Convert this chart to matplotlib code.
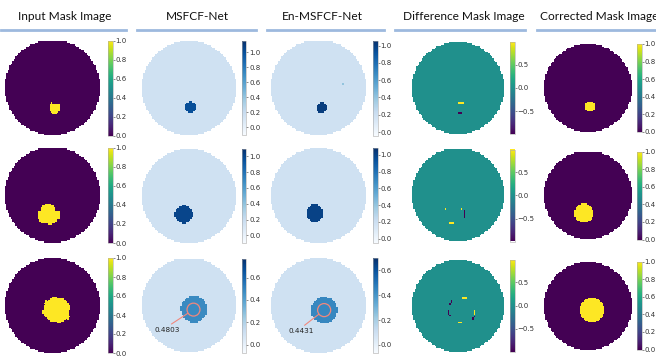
import numpy as np
import matplotlib
matplotlib.use("Agg")
import matplotlib.pyplot as plt
from matplotlib.patches import Circle
from matplotlib.lines import Line2D

N = 64
titles = ["Input Mask Image", "MSFCF-Net", "En-MSFCF-Net",
          "Difference Mask Image", "Corrected Mask Image"]

# lesion position per row: offset from the image centre (grid px, +y down) and radius
blob_dx = [1.5, -3.0, 3.0]
blob_dy = [13.5, 13.3, 3.0]
blob_r = [3.7, 7.0, 9.0]
# raw mask radius changes in 16 angular sectors (sector 0 = +x, turning towards +y)
input_bumps = [
    [0, 0, 0, 1, 1, 0, 0, 0, 0, 0, 0, -1, -1, -1, 0, 0],
    [1, 0, 0, 0, -1, 0, 0, 0, 0, -1, 0, 0, 0, 0, -1, 1],
    [-1, 1, 0, 0, -1, 0, 0, 1, 0, 1, 0, 0, -1, 0, 0, 0],
]
# network outputs
msfcf_bg = [0.15, 0.148, 0.098]
msfcf_dx = [1.0, -3.5, 3.4]
msfcf_dy = [13.3, 12.5, 2.8]
msfcf_r = [4.0, 6.3, 9.0]
msfcf_val = [1.0, 1.0, 0.4803]
msfcf_lims = [(-0.1, 1.15), (-0.09, 1.1), (-0.07, 0.77)]
en_bg = [0.18, 0.176, 0.088]
en_dx = [2.4, -2.5, 3.8]
en_dy = [13.6, 12.0, 3.1]
en_r = [3.5, 6.0, 9.0]
en_val = [1.0, 1.0, 0.4431]
en_lims = [(-0.04, 1.06), (-0.05, 1.08), (-0.065, 0.70)]
en_speck = (0, 16.7, -2.7, 0.4)   # row, dx, dy, value
net_ticks = [[0, 0.2, 0.4, 0.6, 0.8, 1.0], [0, 0.2, 0.4, 0.6, 0.8, 1.0], [0, 0.2, 0.4, 0.6]]
annot_xy = [(17.0, 46.0), (19.7, 46.7)]

# panel geometry in pixels
W, H = 656, 356
col_left = [5, 141.5, 271, 412, 544]
col_size = [95, 94, 95, 92, 88]
cbar_left = [108, 242, 373, 510, 637]
row_center = [88, 195.5, 305.5]
head_x = [64.5, 197, 322, 463.5, 599]
head_line = [(1, 126), (137, 256), (267, 384), (395, 525), (537, 656)]

yy, xx = np.mgrid[0:N, 0:N]
c = (N - 1) / 2
inside = (xx - c) ** 2 + (yy - c) ** 2 <= (N / 2) ** 2


def blob(dx, dy, r, bumps=None):
    bx, by = c + dx, c + dy
    d = np.hypot(xx - bx, yy - by)
    rr = np.full_like(d, r)
    if bumps is not None:
        b = np.asarray(bumps, dtype=float)
        ang = np.mod(np.arctan2(yy - by, xx - bx), 2 * np.pi)
        sec = (ang / (2 * np.pi) * len(b)).astype(int) % len(b)
        rr = r + b[sec]
    return d <= rr


def disk(values):
    out = values.astype(float)
    out[~inside] = np.nan
    return out


def px_axes(left, top, w, h):
    return fig.add_axes([left / W, 1 - (top + h) / H, w / W, h / H])


fig = plt.figure(figsize=(W / 100, H / 100), dpi=100)

for j, t in enumerate(titles):
    fig.text(head_x[j] / W, 1 - 17 / H, t, ha="center", va="center",
             fontsize=8.6, family="Lato", color="#111111")
    x0, x1 = head_line[j]
    fig.add_artist(Line2D([x0 / W, x1 / W], [1 - 30 / H, 1 - 30 / H],
                          color="#9db9de", lw=2, transform=fig.transFigure))

for i in range(3):
    raw = blob(blob_dx[i], blob_dy[i], blob_r[i], input_bumps[i]).astype(float)
    fixed = blob(blob_dx[i], blob_dy[i], blob_r[i]).astype(float)
    diff = fixed - raw

    ms = np.where(blob(msfcf_dx[i], msfcf_dy[i], msfcf_r[i]), msfcf_val[i], msfcf_bg[i])
    en = np.where(blob(en_dx[i], en_dy[i], en_r[i]), en_val[i], en_bg[i])
    if en_speck[0] == i:
        en[int(round(c + en_speck[2])), int(round(c + en_speck[1]))] = en_speck[3]

    panels = [
        (raw, "viridis", (0, 1), [0, 0.2, 0.4, 0.6, 0.8, 1.0]),
        (ms, "Blues", msfcf_lims[i], net_ticks[i]),
        (en, "Blues", en_lims[i], net_ticks[i]),
        (diff, "viridis", (-0.98, 0.98), [-0.5, 0, 0.5]),
        (fixed, "viridis", (0, 1), [0, 0.2, 0.4, 0.6, 0.8, 1.0]),
    ]
    for j, (img, cmap, lims, ticks) in enumerate(panels):
        s = col_size[j]
        top = row_center[i] - s / 2
        ax = px_axes(col_left[j], top, s, s)
        im = ax.imshow(disk(img), cmap=cmap, vmin=lims[0], vmax=lims[1],
                       interpolation="nearest")
        ax.axis("off")

        if i == 2 and j in (1, 2):
            cx = c + (msfcf_dx[i] if j == 1 else en_dx[i])
            cy = c + (msfcf_dy[i] if j == 1 else en_dy[i])
            val = msfcf_val[i] if j == 1 else en_val[i]
            ax.add_patch(Circle((cx, cy), 4.4, fill=False, ec="#f2877c", lw=0.9))
            ax.annotate(f"{val:.4f}", xy=(cx, cy), xytext=annot_xy[j - 1],
                        ha="center", va="top", fontsize=5.2, color="#222222",
                        arrowprops=dict(arrowstyle="-", color="#f2877c", lw=0.8,
                                        shrinkA=0, shrinkB=4.8,
                                        relpos=(0.5, 1.0)))

        cax = px_axes(cbar_left[j], top, 4.5, s)
        cb = fig.colorbar(im, cax=cax, ticks=ticks)
        cb.outline.set_linewidth(0.4)
        cb.outline.set_edgecolor("#aaaaaa")
        cax.tick_params(labelsize=5, length=1.5, width=0.4, pad=0.5,
                        colors="#333333")

fig.savefig("out.png", dpi=100)
